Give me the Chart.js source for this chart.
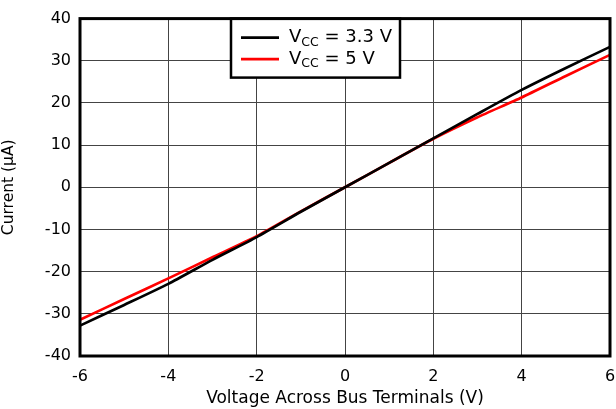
<!DOCTYPE html>
<html>
<head>
<meta charset="utf-8">
<script src="https://cdn.jsdelivr.net/npm/chart.js@4"></script>
<style>
  html, body { margin: 0; padding: 0; background: #fff; }
  #wrap { width: 616px; height: 409px; }
</style>
</head>
<body>
<div id="wrap"><canvas id="chart" width="616" height="409"></canvas></div>
<script>
// values
const voltage = [-6, -5, -4, -3, -2, -1, 0, 1, 2, 3, 4, 5, 6];
const current33 = [-32.8, -27.9, -22.9, -17.2, -11.8, -5.8, 0, 5.8, 11.6, 17.4, 23.1, 28.3, 33.3];
const current5 = [-31.4, -26.5, -21.6, -16.6, -11.6, -5.7, 0, 5.8, 11.5, 16.6, 21.3, 26.4, 31.4];
const xTicks = [-6, -4, -2, 0, 2, 4, 6];
const yTicks = [-40, -30, -20, -10, 0, 10, 20, 30, 40];

const legendItems = [
    { sub: 'CC', rest: ' = 3.3 V', color: '#000000' },
    { sub: 'CC', rest: ' = 5 V', color: '#ff0000' }
];

const FONT = '"DejaVu Sans", Arial, sans-serif';

// thick frame round the plot area plus the boxed legend
const framePlugin = {
    id: 'frame',
    afterDatasetsDraw(chart) {
        const { ctx, chartArea: a } = chart;
        ctx.save();
        ctx.strokeStyle = '#000';

        // legend box
        const bx = a.left + 151, by = a.top, bw = 169, bh = 59;
        ctx.fillStyle = '#fff';
        ctx.fillRect(bx, by, bw, bh);
        ctx.lineWidth = 2.5;
        ctx.strokeRect(bx, by, bw, bh);

        ctx.lineWidth = 3;
        ctx.strokeRect(a.left, a.top, a.right - a.left, a.bottom - a.top);

        legendItems.forEach((item, i) => {
            const y = by + 19 + i * 21.5;
            ctx.strokeStyle = item.color;
            ctx.lineWidth = 2.7;
            ctx.beginPath();
            ctx.moveTo(bx + 10, y);
            ctx.lineTo(bx + 48, y);
            ctx.stroke();

            ctx.fillStyle = '#000';
            ctx.textBaseline = 'middle';
            ctx.textAlign = 'left';
            let tx = bx + 58;
            ctx.font = '18px ' + FONT;
            ctx.fillText('V', tx, y);
            tx += ctx.measureText('V').width;
            ctx.font = '12.5px ' + FONT;
            ctx.fillText(item.sub, tx, y + 5);
            tx += ctx.measureText(item.sub).width;
            ctx.font = '18px ' + FONT;
            ctx.fillText(item.rest, tx, y);
        });
        ctx.restore();
    }
};

new Chart(document.getElementById('chart'), {
    type: 'line',
    data: {
        datasets: [
            {
                label: 'VCC = 3.3 V',
                data: voltage.map((v, i) => ({ x: v, y: current33[i] })),
                borderColor: '#000000',
                borderWidth: 2.7,
                pointRadius: 0,
                tension: 0.2
            },
            {
                label: 'VCC = 5 V',
                data: voltage.map((v, i) => ({ x: v, y: current5[i] })),
                borderColor: '#ff0000',
                borderWidth: 2.7,
                pointRadius: 0,
                tension: 0.2
            }
        ]
    },
    options: {
        responsive: false,
        animation: false,
        layout: { padding: { top: 16, right: 6, left: 0, bottom: 0 } },
        plugins: {
            legend: { display: false },
            tooltip: { enabled: false }
        },
        scales: {
            x: {
                type: 'linear',
                min: -6,
                max: 6,
                afterBuildTicks: (scale) => { scale.ticks = xTicks.map(v => ({ value: v })); },
                afterFit: (scale) => {
                    scale.height = 53;
                    scale.paddingLeft = 0;
                    scale.paddingRight = 0;
                },
                grid: { color: '#444', lineWidth: 1, drawTicks: false },
                border: { display: false },
                ticks: { color: '#000', font: { family: FONT, size: 16 }, padding: 11, maxRotation: 0 },
                title: {
                    display: true,
                    text: 'Voltage Across Bus Terminals (V)',
                    color: '#000',
                    font: { family: FONT, size: 17 },
                    padding: { top: 0, bottom: 0 }
                }
            },
            y: {
                type: 'linear',
                min: -40,
                max: 40,
                afterBuildTicks: (scale) => { scale.ticks = yTicks.map(v => ({ value: v })); },
                afterFit: (scale) => { scale.width = 80; },
                grid: { color: '#444', lineWidth: 1, drawTicks: false },
                border: { display: false },
                ticks: { color: '#000', font: { family: FONT, size: 16 }, padding: 9 },
                title: {
                    display: true,
                    text: 'Current (µA)',
                    color: '#000',
                    font: { family: FONT, size: 15.5 },
                    padding: { top: 0, bottom: 2 }
                }
            }
        }
    },
    plugins: [framePlugin]
});
</script>
</body>
</html>
